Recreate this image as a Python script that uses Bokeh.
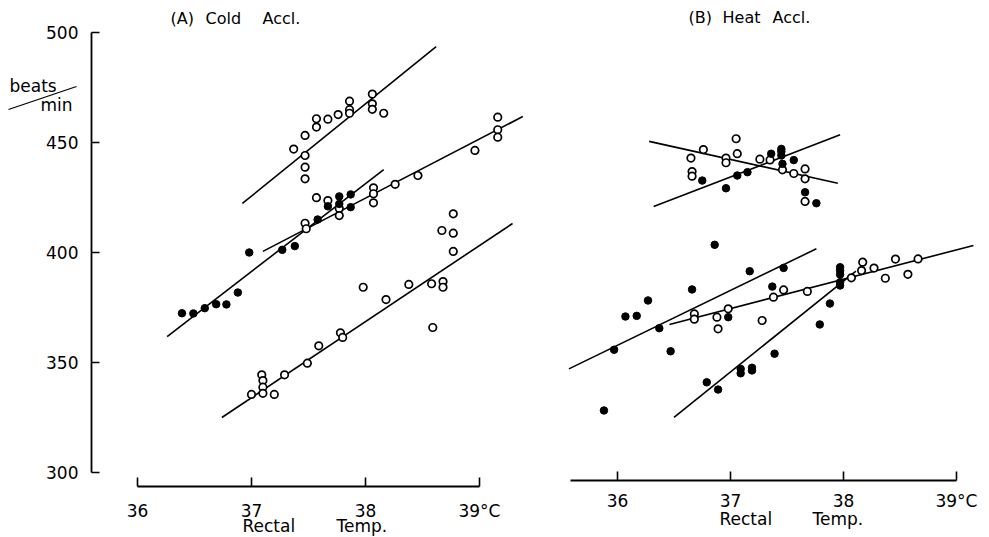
from bokeh.plotting import figure
from bokeh.models import Range1d, FixedTicker, Label, LinearAxis
from bokeh.embed import file_html
from bokeh.resources import INLINE

FONT = "DejaVu Sans"

# ---------------- data ----------------
x_ticks = [36, 37, 38, 39]
x_tick_labels = ["36", "37", "38", "39°C"]
y_ticks = [300, 350, 400, 450, 500]

# (A) Cold acclimated
a_up_open_t = [37.37, 37.47, 37.47, 37.47, 37.47, 37.57, 37.57, 37.67, 37.76, 37.86, 37.86, 37.86, 38.06, 38.06, 38.06, 38.16]
a_up_open_v = [447.0, 453.2, 444.1, 438.8, 433.5, 460.8, 457.0, 460.6, 462.7, 468.8, 464.9, 463.3, 472.0, 467.6, 465.1, 463.3]

a_mid_fill_t = [36.39, 36.49, 36.59, 36.69, 36.78, 36.88, 36.98, 37.27, 37.38, 37.58, 37.67, 37.77, 37.77, 37.87, 37.87]
a_mid_fill_v = [372.4, 372.3, 374.7, 376.5, 376.4, 381.8, 400.0, 401.2, 402.9, 415.0, 421.0, 425.5, 422.1, 426.4, 420.6]

a_mid_open_t = [37.47, 37.48, 37.57, 37.67, 37.77, 37.77, 38.07, 38.07, 38.07, 38.26, 38.46, 38.96, 39.16, 39.16, 39.16]
a_mid_open_v = [413.3, 410.8, 424.9, 423.6, 420.0, 416.8, 429.4, 426.7, 422.6, 431.0, 435.0, 446.4, 461.5, 455.8, 452.4]

a_low_open_t = [37.00, 37.09, 37.10, 37.10, 37.10, 37.20, 37.29, 37.49, 37.59, 37.78, 37.80, 37.98, 38.18, 38.38, 38.58, 38.59, 38.67, 38.77, 38.77, 38.68, 38.68, 38.77]
a_low_open_v = [335.5, 344.4, 341.8, 338.8, 336.0, 335.5, 344.4, 349.7, 357.6, 363.5, 361.4, 384.2, 378.6, 385.5, 385.8, 365.9, 410.0, 408.8, 400.5, 386.8, 384.2, 417.6]

a_line_up_t = [36.92, 38.62]
a_line_up_v = [422.3, 493.6]
a_line_fill_t = [36.26, 38.16]
a_line_fill_v = [361.8, 437.7]
a_line_open_t = [37.10, 39.38]
a_line_open_v = [400.5, 461.8]
a_line_low_t = [36.74, 39.29]
a_line_low_v = [325.0, 413.2]

# (B) Heat acclimated
b_up_open_t = [36.65, 36.76, 36.66, 36.66, 36.96, 36.96, 37.05, 37.06, 37.26, 37.35, 37.46, 37.56, 37.66, 37.66, 37.66]
b_up_open_v = [442.9, 446.8, 436.8, 434.7, 442.9, 440.8, 451.7, 444.9, 442.4, 442.1, 437.6, 435.9, 438.0, 433.5, 423.2]
b_up_fill_t = [36.75, 36.96, 37.06, 37.15, 37.36, 37.45, 37.45, 37.45, 37.46, 37.56, 37.66, 37.76]
b_up_fill_v = [432.7, 429.2, 435.0, 436.5, 444.9, 447.1, 445.9, 444.1, 440.3, 442.0, 427.4, 422.4]

b_low_fill_t = [35.88, 35.97, 36.07, 36.17, 36.27, 36.37, 36.47, 36.66, 36.86, 36.98, 36.79, 36.89, 37.09, 37.09, 37.19, 37.19, 37.17, 37.37, 37.39, 37.47, 37.79, 37.88, 37.97, 37.97, 37.97, 37.97, 37.97]
b_low_fill_v = [328.2, 355.8, 370.9, 371.2, 378.2, 365.6, 355.1, 383.2, 403.5, 370.6, 341.0, 337.7, 347.1, 345.1, 347.6, 346.4, 391.5, 384.5, 354.0, 393.0, 367.3, 376.8, 393.3, 391.8, 390.0, 386.5, 385.0]
b_low_open_t = [36.68, 36.68, 36.88, 36.89, 36.98, 37.28, 37.38, 37.47, 37.68, 38.07, 38.17, 38.16, 38.27, 38.37, 38.46, 38.57, 38.66]
b_low_open_v = [372.1, 369.7, 370.6, 365.3, 374.4, 369.1, 379.7, 383.0, 382.3, 388.5, 395.6, 391.8, 392.9, 388.3, 397.0, 390.1, 397.1]

b_line_dec_t = [36.28, 37.95]
b_line_dec_v = [450.5, 431.5]
b_line_inc_t = [36.32, 37.97]
b_line_inc_v = [420.9, 453.5]
b_line_c_t = [35.57, 37.76]
b_line_c_v = [347.1, 401.7]
b_line_d_t = [36.46, 39.15]
b_line_d_v = [367.3, 403.2]
b_line_e_t = [36.50, 38.11]
b_line_e_v = [325.1, 391.5]

# ---------------- figure: the frame fills the whole canvas ----------------
# left panel scale: 114 px per degC, x=36 at px 137; 2.2 px per beat/min, 300 at px 472
# right panel scale: 113 px per degC, x=36 at px 617
W, H = 989, 537
p = figure(width=W, height=H, min_border=0, output_backend="svg", toolbar_location=None,
           x_range=Range1d(36 - 137 / 114, 36 + (W - 137) / 114),
           y_range=Range1d(300 + (472 - H) / 2.2, 300 + 472 / 2.2),
           x_axis_location=None, y_axis_location=None)
p.extra_x_ranges = {"right": Range1d(36 - 617 / 113, 36 + (W - 617) / 113)}
p.outline_line_color = None
p.grid.visible = False
p.background_fill_color = "white"
p.border_fill_color = "white"


def px_t(x):  # canvas px -> left-panel temperature units
    return 36 + (x - 137) / 114


def px_v(y):  # canvas px -> beats/min units
    return 300 + (472 - y) / 2.2


def make_x_axis(range_name, bounds, at_px, standoff):
    ax = LinearAxis(x_range_name=range_name, fixed_location=px_v(at_px))
    ax.ticker = FixedTicker(ticks=x_ticks)
    ax.major_label_overrides = {k: s for k, s in zip(x_ticks, x_tick_labels)}
    ax.bounds = bounds
    ax.axis_line_width = 1.8
    ax.axis_line_color = "black"
    ax.major_tick_in = 9
    ax.major_tick_out = 0
    ax.major_tick_line_width = 1.6
    ax.minor_tick_in = 0
    ax.minor_tick_out = 0
    ax.major_label_standoff = standoff
    ax.major_label_text_font = FONT
    ax.major_label_text_font_size = "17px"
    ax.major_label_text_color = "black"
    p.add_layout(ax, "below")


make_x_axis("default", (36, 39), 486, 14)
make_x_axis("right", (36 + (570 - 617) / 113, 39), 480, 10)

ya = LinearAxis(fixed_location=px_t(91))
ya.ticker = FixedTicker(ticks=y_ticks)
ya.bounds = (300, 500)
ya.axis_line_width = 1.8
ya.major_tick_in = 8
ya.major_tick_out = 0
ya.major_tick_line_width = 1.6
ya.minor_tick_in = 0
ya.minor_tick_out = 0
ya.major_label_standoff = 13
ya.major_label_text_font = FONT
ya.major_label_text_font_size = "17px"
ya.major_label_text_color = "black"
p.add_layout(ya, "left")

MS = 7.5
LW = 1.6


def open_pts(t, v, rn="default"):
    p.scatter(t, v, marker="circle", size=MS, fill_color="white", line_color="black",
              line_width=1.7, x_range_name=rn)


def fill_pts(t, v, rn="default"):
    p.scatter(t, v, marker="circle", size=MS, fill_color="black", line_color="black",
              line_width=1, x_range_name=rn)


def fit_line(t, v, rn="default"):
    p.line(t, v, line_color="black", line_width=LW, x_range_name=rn)


# (A)
fit_line(a_line_up_t, a_line_up_v)
fit_line(a_line_fill_t, a_line_fill_v)
fit_line(a_line_open_t, a_line_open_v)
fit_line(a_line_low_t, a_line_low_v)
open_pts(a_up_open_t, a_up_open_v)
open_pts(a_mid_open_t, a_mid_open_v)
open_pts(a_low_open_t, a_low_open_v)
fill_pts(a_mid_fill_t, a_mid_fill_v)

# (B)
for t, v in [(b_line_dec_t, b_line_dec_v), (b_line_inc_t, b_line_inc_v), (b_line_c_t, b_line_c_v),
             (b_line_d_t, b_line_d_v), (b_line_e_t, b_line_e_v)]:
    fit_line(t, v, "right")
open_pts(b_up_open_t, b_up_open_v, "right")
open_pts(b_low_open_t, b_low_open_v, "right")
fill_pts(b_up_fill_t, b_up_fill_v, "right")
fill_pts(b_low_fill_t, b_low_fill_v, "right")


def txt(x_px, y_px, s, size="16px", align="left"):
    p.add_layout(Label(x=px_t(x_px), y=px_v(y_px), text=s, text_font=FONT, text_font_size=size,
                       text_align=align, text_baseline="middle", text_color="black"))


# panel titles, word by word as spaced in the original
txt(170, 18, "(A)")
txt(205, 18, "Cold")
txt(262, 18, "Accl.")
txt(688, 17, "(B)")
txt(722, 17, "Heat")
txt(772, 17, "Accl.")
# axis titles
txt(242, 525, "Rectal", size="17px")
txt(336, 525, "Temp.", size="17px")
txt(719, 518, "Rectal", size="17px")
txt(812, 518, "Temp.", size="17px")
# unit label
txt(9, 85, "beats", size="17px")
txt(40, 104, "min", size="17px")
p.segment(x0=[px_t(8)], y0=[px_v(109)], x1=[px_t(76)], y1=[px_v(86)],
          line_color="black", line_width=1.3)

open("out.html", "w").write(file_html(p, INLINE))
